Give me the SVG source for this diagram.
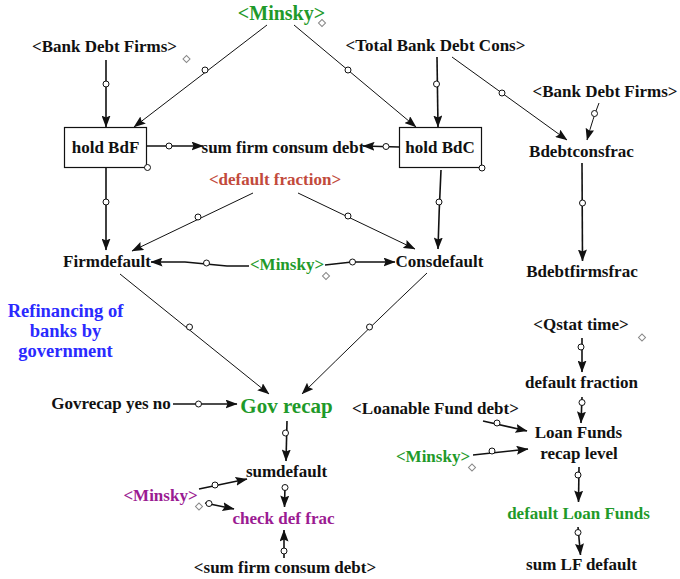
<svg xmlns="http://www.w3.org/2000/svg" width="680" height="579" viewBox="0 0 680 579">
<defs>
<marker id="a" markerUnits="userSpaceOnUse" markerWidth="12" markerHeight="9" refX="11.5" refY="4.5" orient="auto">
<path d="M0,0 L12,4.5 L0,9 L2,4.5 z" fill="#111"/>
</marker>
<circle id="hc" r="3" fill="#fff" stroke="#111" stroke-width="1"/>
<rect id="dm" x="-2.5" y="-2.5" width="5" height="5" fill="#fff" stroke="#888" stroke-width="1" transform="rotate(45)"/>
</defs>
<rect width="680" height="579" fill="#fff"/>

<g id="connectors" fill="none" stroke="#111">
<path stroke-width="1.6" d="M106,60 L106,127" marker-end="url(#a)"/>
<path stroke-width="1" d="M267,25 L134,127" marker-end="url(#a)"/>
<path stroke-width="1" d="M294,25 L416,127" marker-end="url(#a)"/>
<path stroke-width="1.6" d="M437,57 L438,127" marker-end="url(#a)"/>
<path stroke-width="1" d="M452,57 L567,140" marker-end="url(#a)"/>
<path stroke-width="1" d="M599,103 Q593,118 587,140" marker-end="url(#a)"/>
<path stroke-width="1.6" d="M147,146 L203,146" marker-end="url(#a)"/>
<path stroke-width="1.6" d="M399,147 L363,146" marker-end="url(#a)"/>
<path stroke-width="1.6" d="M106,168 L106,250" marker-end="url(#a)"/>
<path stroke-width="1.6" d="M441,170 Q439,210 438,249" marker-end="url(#a)"/>
<path stroke-width="1" d="M253,193 L132,251" marker-end="url(#a)"/>
<path stroke-width="1" d="M298,193 L415,249" marker-end="url(#a)"/>
<path stroke-width="1.6" d="M249,266 L227,266 L185,262 L151,262" marker-end="url(#a)"/>
<path stroke-width="1.6" d="M325,265 L352,262 L395,262" marker-end="url(#a)"/>
<path stroke-width="1.6" d="M582,163 L582.5,261" marker-end="url(#a)"/>
<path stroke-width="1" d="M120,274 L269,394" marker-end="url(#a)"/>
<path stroke-width="1" d="M427,273 Q370,327 302,394" marker-end="url(#a)"/>
<path stroke-width="1.6" d="M173,404 L237,404" marker-end="url(#a)"/>
<path stroke-width="1.6" d="M287,421 L286,461" marker-end="url(#a)"/>
<path stroke-width="1.6" d="M199,489 L247,479" marker-end="url(#a)"/>
<path stroke-width="1.6" d="M205,503 L234,509" marker-end="url(#a)"/>
<path stroke-width="1.6" d="M285,485 L284.5,507" marker-end="url(#a)"/>
<path stroke-width="1.6" d="M284,558 L284,530" marker-end="url(#a)"/>
<path stroke-width="1.6" d="M582,338 L582,372" marker-end="url(#a)"/>
<path stroke-width="1.6" d="M582,397 L581,423" marker-end="url(#a)"/>
<path stroke-width="1.6" d="M483,421 L527,431" marker-end="url(#a)"/>
<path stroke-width="1.6" d="M473,455 L528,449" marker-end="url(#a)"/>
<path stroke-width="1.6" d="M579,467 L578.5,502" marker-end="url(#a)"/>
<path stroke-width="1.6" d="M578,527 L580.5,555" marker-end="url(#a)"/>
<use href="#hc" x="106" y="84"/>
<use href="#hc" x="205" y="70"/>
<use href="#hc" x="348" y="70"/>
<use href="#hc" x="436.5" y="84"/>
<use href="#hc" x="502" y="93"/>
<use href="#hc" x="594.5" y="113.5"/>
<use href="#hc" x="169" y="146"/>
<use href="#hc" x="386" y="146.5"/>
<use href="#hc" x="106" y="202"/>
<use href="#hc" x="439" y="202"/>
<use href="#hc" x="198" y="217"/>
<use href="#hc" x="348" y="216"/>
<use href="#hc" x="206.5" y="263"/>
<use href="#hc" x="352.5" y="262"/>
<use href="#hc" x="582.5" y="203"/>
<use href="#hc" x="189.5" y="327"/>
<use href="#hc" x="369.5" y="327"/>
<use href="#hc" x="198.5" y="404"/>
<use href="#hc" x="285.5" y="433"/>
<use href="#hc" x="215" y="485"/>
<use href="#hc" x="209" y="503.5"/>
<use href="#hc" x="285" y="487.5"/>
<use href="#hc" x="284" y="551"/>
<use href="#hc" x="581" y="347"/>
<use href="#hc" x="582" y="402.5"/>
<use href="#hc" x="497" y="423"/>
<use href="#hc" x="492" y="451"/>
<use href="#hc" x="578" y="475"/>
<use href="#hc" x="578" y="532.5"/>
</g>

<g id="minsky_top"><text x="281.5" y="20" font-family="Liberation Serif" font-weight="bold" font-size="20" text-anchor="middle" fill="#1f9a2a">&lt;Minsky&gt;</text><use href="#dm" x="322" y="23"/></g>
<g id="bank_debt_firms_left"><text x="104.5" y="52" font-family="Liberation Serif" font-weight="bold" font-size="17" text-anchor="middle" fill="#111">&lt;Bank Debt Firms&gt;</text><use href="#dm" x="186.5" y="59"/></g>
<g id="total_bank_debt_cons"><text x="435.5" y="51" font-family="Liberation Serif" font-weight="bold" font-size="17" text-anchor="middle" fill="#111">&lt;Total Bank Debt Cons&gt;</text></g>
<g id="bank_debt_firms_right"><text x="605" y="97" font-family="Liberation Serif" font-weight="bold" font-size="17" text-anchor="middle" fill="#111">&lt;Bank Debt Firms&gt;</text></g>
<g id="hold_bdf"><rect x="64.5" y="127.5" width="82" height="40" fill="#fff" stroke="#111" stroke-width="1.2"/><text x="105.5" y="153" font-family="Liberation Serif" font-weight="bold" font-size="17" text-anchor="middle" fill="#111">hold BdF</text><use href="#hc" x="147.5" y="167.5"/></g>
<g id="sum_firm_consum_debt"><text x="283" y="153" font-family="Liberation Serif" font-weight="bold" font-size="17" text-anchor="middle" fill="#111">sum firm consum debt</text></g>
<g id="hold_bdc"><rect x="399.5" y="127.5" width="82" height="40" fill="#fff" stroke="#111" stroke-width="1.2"/><text x="440" y="153" font-family="Liberation Serif" font-weight="bold" font-size="17" text-anchor="middle" fill="#111">hold BdC</text><use href="#hc" x="482" y="168"/></g>
<g id="bdebtconsfrac"><text x="581.5" y="157" font-family="Liberation Serif" font-weight="bold" font-size="17" text-anchor="middle" fill="#111">Bdebtconsfrac</text></g>
<g id="default_fraction_shadow"><text x="275" y="185" font-family="Liberation Serif" font-weight="bold" font-size="17" text-anchor="middle" fill="#c24a3c">&lt;default fraction&gt;</text></g>
<g id="firmdefault"><text x="107" y="267" font-family="Liberation Serif" font-weight="bold" font-size="17" text-anchor="middle" fill="#111">Firmdefault</text></g>
<g id="minsky_mid"><text x="287" y="270" font-family="Liberation Serif" font-weight="bold" font-size="17" text-anchor="middle" fill="#1f9a2a">&lt;Minsky&gt;</text><use href="#dm" x="326" y="276"/></g>
<g id="consdefault"><text x="439.5" y="267" font-family="Liberation Serif" font-weight="bold" font-size="17" text-anchor="middle" fill="#111">Consdefault</text></g>
<g id="bdebtfirmsfrac"><text x="582" y="277" font-family="Liberation Serif" font-weight="bold" font-size="17" text-anchor="middle" fill="#111">Bdebtfirmsfrac</text></g>
<g id="refinancing_note"><text x="65.5" y="317" font-family="Liberation Serif" font-weight="bold" font-size="18.5" text-anchor="middle" fill="#2a2aff">Refinancing of</text><text x="65.5" y="337" font-family="Liberation Serif" font-weight="bold" font-size="18.5" text-anchor="middle" fill="#2a2aff">banks by</text><text x="65.5" y="357" font-family="Liberation Serif" font-weight="bold" font-size="18.5" text-anchor="middle" fill="#2a2aff">government</text></g>
<g id="qstat_time"><text x="581" y="330" font-family="Liberation Serif" font-weight="bold" font-size="17" text-anchor="middle" fill="#111">&lt;Qstat time&gt;</text><use href="#dm" x="642" y="337.5"/></g>
<g id="default_fraction"><text x="581.5" y="388" font-family="Liberation Serif" font-weight="bold" font-size="17" text-anchor="middle" fill="#111">default fraction</text></g>
<g id="govrecap_yes_no"><text x="111" y="409" font-family="Liberation Serif" font-weight="bold" font-size="17" text-anchor="middle" fill="#111">Govrecap yes no</text></g>
<g id="gov_recap"><text x="286.5" y="413" font-family="Liberation Serif" font-weight="bold" font-size="21" text-anchor="middle" fill="#1f9a2a">Gov recap</text></g>
<g id="loanable_fund_debt"><text x="435.5" y="414" font-family="Liberation Serif" font-weight="bold" font-size="17" text-anchor="middle" fill="#111">&lt;Loanable Fund debt&gt;</text></g>
<g id="loan_funds_recap_level"><text x="578.5" y="438" font-family="Liberation Serif" font-weight="bold" font-size="17" text-anchor="middle" fill="#111">Loan Funds</text><text x="579" y="459" font-family="Liberation Serif" font-weight="bold" font-size="17" text-anchor="middle" fill="#111">recap level</text></g>
<g id="minsky_right"><text x="433" y="462" font-family="Liberation Serif" font-weight="bold" font-size="17" text-anchor="middle" fill="#1f9a2a">&lt;Minsky&gt;</text><use href="#dm" x="472" y="467.5"/></g>
<g id="sumdefault"><text x="286.5" y="477" font-family="Liberation Serif" font-weight="bold" font-size="17" text-anchor="middle" fill="#111">sumdefault</text></g>
<g id="minsky_purple"><text x="160.5" y="501" font-family="Liberation Serif" font-weight="bold" font-size="17" text-anchor="middle" fill="#9b1b92">&lt;Minsky&gt;</text><use href="#dm" x="199" y="506.5"/></g>
<g id="check_def_frac"><text x="283.5" y="524" font-family="Liberation Serif" font-weight="bold" font-size="17" text-anchor="middle" fill="#9b1b92">check def frac</text></g>
<g id="default_loan_funds"><text x="578.5" y="519" font-family="Liberation Serif" font-weight="bold" font-size="17" text-anchor="middle" fill="#1f9a2a">default Loan Funds</text></g>
<g id="sum_firm_consum_debt_shadow"><text x="285" y="573" font-family="Liberation Serif" font-weight="bold" font-size="17" text-anchor="middle" fill="#111">&lt;sum firm consum debt&gt;</text></g>
<g id="sum_lf_default"><text x="581.5" y="570" font-family="Liberation Serif" font-weight="bold" font-size="17" text-anchor="middle" fill="#111">sum LF default</text></g>
</svg>
